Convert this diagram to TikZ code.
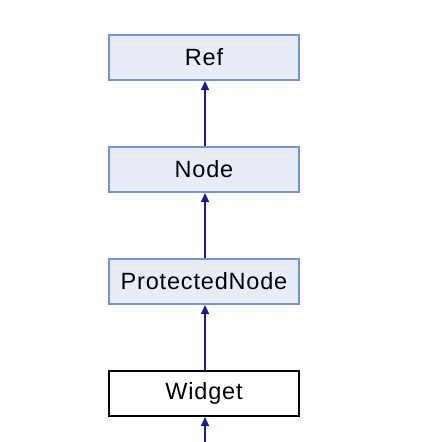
\documentclass[tikz,border=0pt]{standalone}
\usepackage{fontspec}
\setmainfont{Liberation Sans}[LetterSpace=3.5]
\usetikzlibrary{arrows.meta}
\definecolor{classfill}{RGB}{232,236,247}
\definecolor{classedge}{RGB}{120,146,220}
\definecolor{linkblue}{RGB}{26,26,160}
\begin{document}
\begin{tikzpicture}[x=1pt,y=1pt,
  classbox/.style={rectangle, draw=classedge, fill=classfill, line width=2pt,
    minimum width=190pt, minimum height=45pt, inner sep=0pt,
    font=\fontsize{23.5}{26}\selectfont},
  currentbox/.style={classbox, draw=black, fill=white},
  inherit/.style={draw=linkblue, line width=2pt,
    -{Triangle[length=9pt,width=8pt]}}]
  \fill[white] (0,0) rectangle (440,-442);
  \useasboundingbox (0,0) rectangle (440,-442);
  \node[classbox] (ref) at (204,-57.5) {Ref};
  \node[classbox] (node) at (204,-169.5) {Node};
  \node[classbox] (prot) at (204,-281.5) {ProtectedNode};
  \node[currentbox] (widget) at (204,-393.5) {Widget};
  \coordinate (below) at (205,-442);
  \draw[inherit] ([xshift=1pt]node.north) -- ([xshift=1pt]ref.south);
  \draw[inherit] ([xshift=1pt]prot.north) -- ([xshift=1pt]node.south);
  \draw[inherit] ([xshift=1pt]widget.north) -- ([xshift=1pt]prot.south);
  \draw[inherit] (below) -- (widget.south -| below);
\end{tikzpicture}
\end{document}
